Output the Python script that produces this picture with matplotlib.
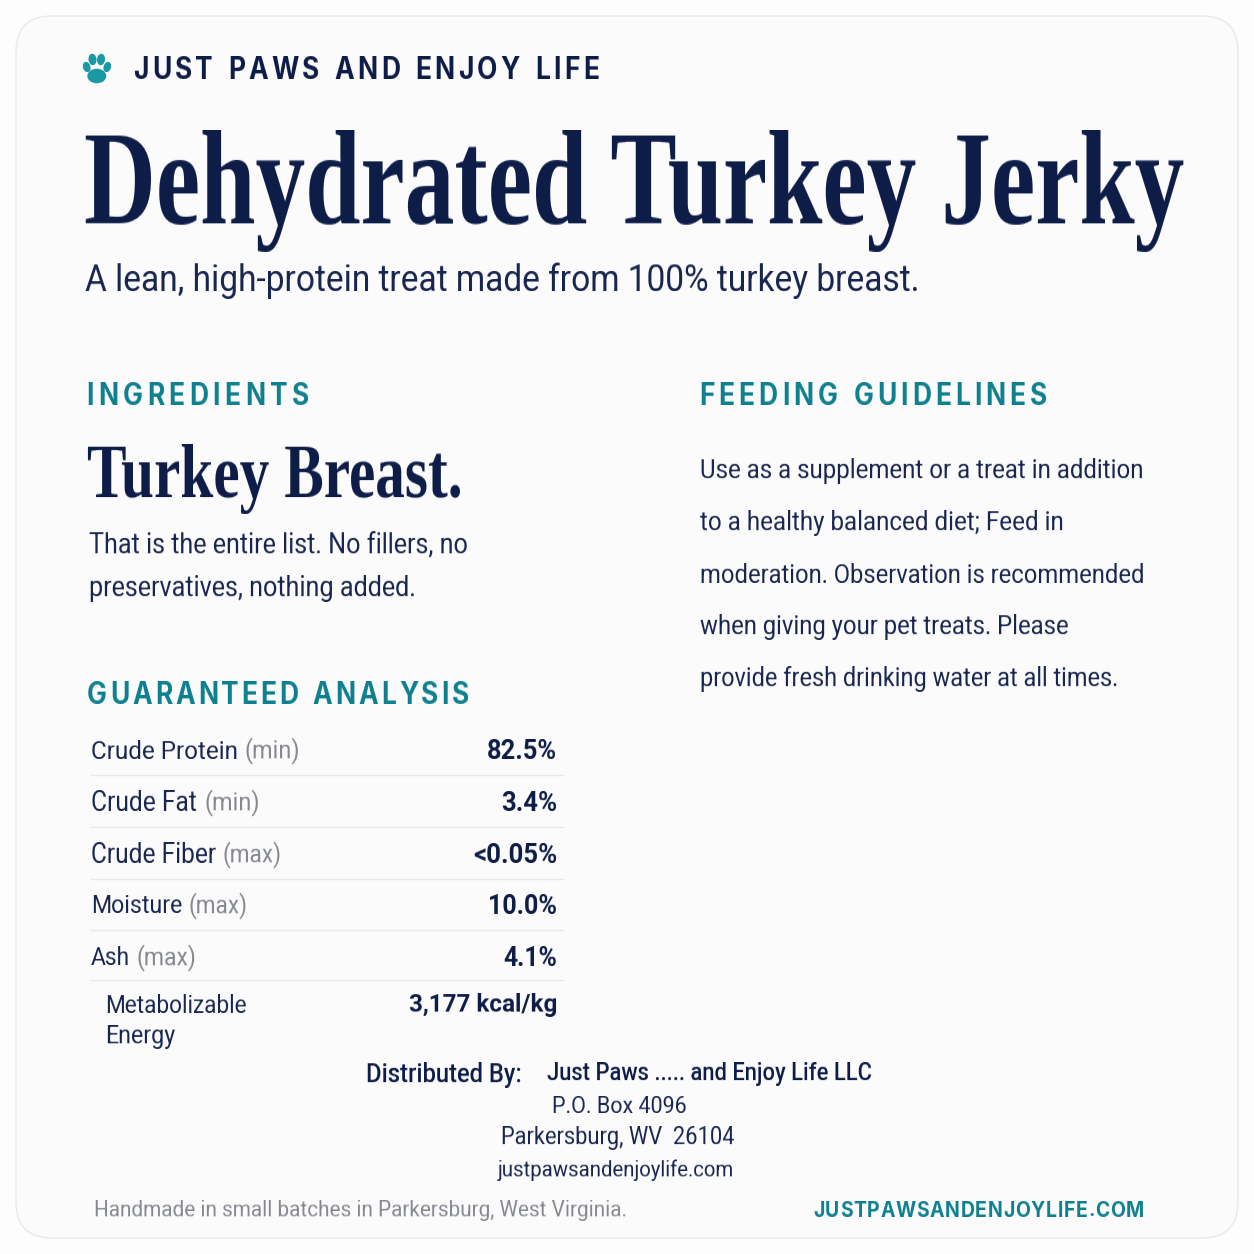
import numpy as np
import matplotlib
matplotlib.use("Agg")
import matplotlib.pyplot as plt
from matplotlib.patches import FancyBboxPatch, Ellipse

NAVY = "#0e1c48"
BODY = "#18254f"
TEAL = "#0f8090"
PAW = "#1b98a4"
GREY = "#85888f"

BRAND = "JUST PAWS AND ENJOY LIFE"
TITLE = "Dehydrated Turkey Jerky"
SUBTITLE = "A lean, high-protein treat made from 100% turkey breast."
INGREDIENT_TEXT = ["That is the entire list. No fillers, no", "preservatives, nothing added."]
FEEDING = ["Use as a supplement or a treat in addition", "to a healthy balanced diet; Feed in",
           "moderation. Observation is recommended", "when giving your pet treats. Please",
           "provide fresh drinking water at all times."]
NUTRIENTS = ["Crude Protein", "Crude Fat", "Crude Fiber", "Moisture", "Ash"]
QUALIFIERS = ["(min)", "(min)", "(max)", "(max)", "(max)"]
VALUES = ["82.5%", "3.4%", "<0.05%", "10.0%", "4.1%"]
ENERGY = "3,177 kcal/kg"
ADDRESS = ["P.O. Box 4096", "Parkersburg, WV  26104", "justpawsandenjoylife.com"]

fig = plt.figure(figsize=(12.54, 12.54), dpi=100, facecolor="#fdfdfd")
ax = fig.add_axes([0, 0, 1, 1])
ax.set_xlim(0, 1254)
ax.set_ylim(1254, 0)
ax.axis("off")
ax.add_patch(FancyBboxPatch((16, 16), 1222, 1222, boxstyle="round,pad=0,rounding_size=36",
                            fc="#fbfbfb", ec="#e9e9e9", lw=1))
R = fig.canvas.get_renderer()


def vstretch(f):
    def filt(img, dpi):
        h = img.shape[0]
        nh = int(round(h * f))
        pos = np.linspace(0, h - 1, nh)
        lo = np.floor(pos).astype(int)
        hi = np.minimum(lo + 1, h - 1)
        w = (pos - lo)[:, None, None]
        return img[lo] * (1 - w) + img[hi] * w, 0, -(nh - h) // 2
    return filt


def fit(x0, x1, y, s, color=BODY, family="Roboto", weight="normal", vs=1.12, ha="left"):
    """Text whose font size is chosen so that it spans x0..x1, stretched in height."""
    tx = ax.text(x0 if ha == "left" else x1, y, s, fontsize=20, color=color, family=family,
                 weight=weight, ha=ha, va="center")
    tx.set_fontsize(20 * (x1 - x0) / tx.get_window_extent(R).width)
    tx.set_agg_filter(vstretch(vs))
    return tx


def spaced(x0, x1, y, s, size, color, vs=1.14):
    """Letter-spaced caps spanning x0..x1."""
    adv = []
    for ch in s:
        if ch == " ":
            adv.append(size * 0.42)
        else:
            probe = ax.text(0, 0, ch, fontsize=size, family="Inter", weight="bold")
            adv.append(probe.get_window_extent(R).width)
            probe.remove()
    gap = (x1 - x0 - sum(adv)) / (len(s) - 1)
    x = x0
    for ch, a in zip(s, adv):
        tx = ax.text(x, y, ch, fontsize=size, color=color, family="Inter", weight="bold", ha="left", va="center")
        tx.set_agg_filter(vstretch(vs))
        x += a + gap


# paw
for cx, cy, w, h, ang in [(86.7, 67, 7.5, 10.5, -18), (92.5, 59.5, 8, 11.5, -6),
                          (101, 59.5, 8, 11.5, 6), (107.3, 67, 7.5, 10.5, 18)]:
    ax.add_patch(Ellipse((cx, cy), w, h, angle=ang, fc=PAW, ec="none"))
ax.add_patch(Ellipse((96.8, 76), 19, 14.5, fc=PAW, ec="none"))

spaced(133, 599, 70, BRAND, 19, NAVY)
fit(84, 1186, 191, TITLE, color=NAVY, family="Liberation Serif", weight="bold", vs=1.36)
fit(85, 919, 281, SUBTITLE)

spaced(86, 309, 396, "INGREDIENTS", 19, TEAL)
spaced(699, 1047, 396, "FEEDING GUIDELINES", 19, TEAL)
spaced(87, 469, 695, "GUARANTEED ANALYSIS", 19, TEAL)

fit(87, 463, 479, "Turkey Breast.", color=NAVY, family="Liberation Serif", weight="bold", vs=1.3)
for y, x1, s in zip([545, 588], [468, 415], INGREDIENT_TEXT):
    fit(89, x1, y, s)
for y, x1, s in zip([470, 522, 575, 627, 679], [1142, 1063, 1142, 1068, 1117], FEEDING):
    fit(700, x1, y, s)

rows = [751, 803, 855, 906, 958]
name_end = [238, 197, 216, 182, 130]
qual_end = [300, 259, 282, 248, 197]
val_start = [487, 501, 473, 488, 503]
for y, n, q, v, a, b, c in zip(rows, NUTRIENTS, QUALIFIERS, VALUES, name_end, qual_end, val_start):
    fit(91, a, y, n, vs=1.08)
    fit(a + 7, b, y, q, color=GREY, vs=1.08)
    fit(c, 557, y, v, color=NAVY, weight="bold", ha="right", vs=1.05)
for y in [775, 827, 879, 930, 980]:
    ax.plot([91, 563], [y, y], color="#e7e8e9", lw=1)
fit(105, 246, 1005, "Metabolizable", vs=1.08)
fit(105, 175, 1036, "Energy", vs=1.08)
fit(409, 557, 1005, ENERGY, color=NAVY, weight="bold", ha="right", vs=1.05)

fit(366, 522, 1074, "Distributed By:", color=NAVY, weight="medium")
fit(547, 871, 1074, "Just Paws ..... and Enjoy Life LLC", color=NAVY, weight="medium")
for y, x0, x1, s in zip([1107, 1138, 1170], [552, 501, 498], [687, 735, 735], ADDRESS):
    fit(x0, x1, y, s)
fit(94, 625, 1211, "Handmade in small batches in Parkersburg, West Virginia.", color=GREY)
spaced(813, 1144, 1211, "JUSTPAWSANDENJOYLIFE.COM", 14, TEAL)

fig.savefig("out.png", dpi=100, facecolor=fig.get_facecolor())
